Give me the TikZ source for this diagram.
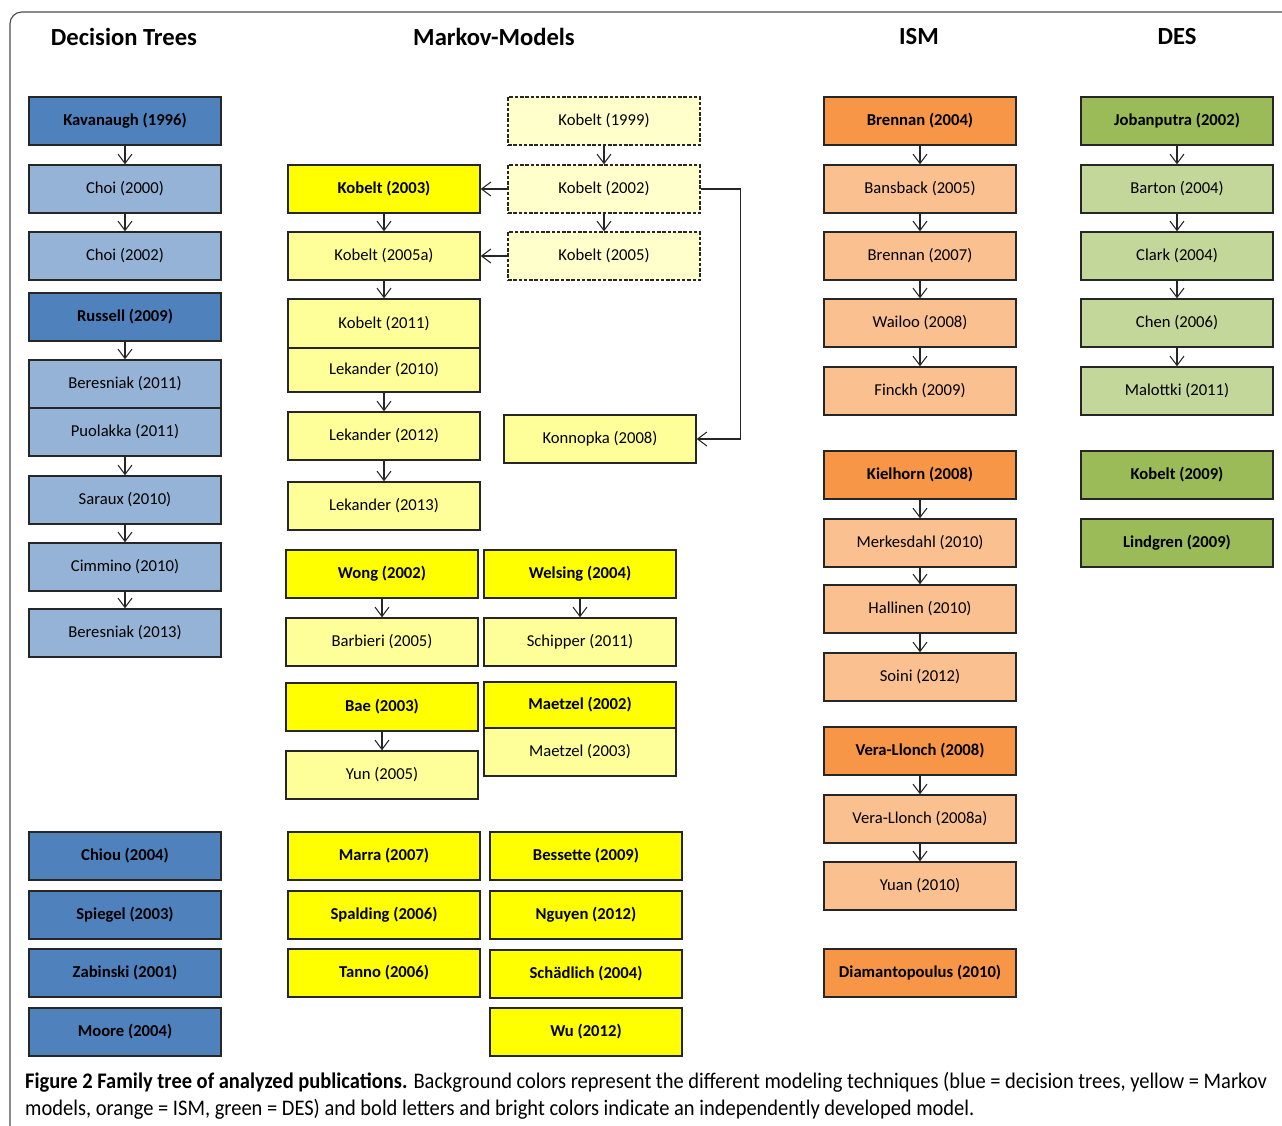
\documentclass[tikz,border=0pt]{standalone}
\usepackage{fontspec}
\setmainfont{Carlito}
\newfontfamily\capfont[FakeStretch=0.92]{Carlito}
\usetikzlibrary{arrows.meta}
\definecolor{dtdark}{HTML}{4F81BD}
\definecolor{dtlight}{HTML}{95B3D7}
\definecolor{mmdark}{HTML}{FFFF00}
\definecolor{mmlight}{HTML}{FFFF99}
\definecolor{mmpale}{HTML}{FFFFCC}
\definecolor{ismdark}{HTML}{F79646}
\definecolor{ismlight}{HTML}{FAC090}
\definecolor{desdark}{HTML}{9BBB59}
\definecolor{deslight}{HTML}{C4D79B}
\tikzset{
  pub/.style={draw=black!85, line width=1.2pt, minimum width=5.76cm,
    minimum height=1.44cm, inner sep=0pt, font=\fontsize{14.2}{16}\selectfont},
  indep/.style={pub, font=\fontsize{14.2}{16}\selectfont\bfseries},
  pubhead/.style={font=\fontsize{21}{24}\selectfont\bfseries},
  nx/.style={-{Straight Barb[length=2.8mm,width=4.2mm]}, line width=0.9pt, black!85},
}
\begin{document}
\begin{tikzpicture}[x=0.3mm,y=-0.3mm]
\useasboundingbox (0,0) rectangle (1282,1125);
\draw[rounded corners=10, line width=1pt, black!70] (10,1140) -- (10,12) -- (1300,12);
% Headers
\node[pubhead] (hdt) at (124,37) {Decision Trees};
\node[pubhead] (hmm) at (494,37) {Markov-Models};
\node[pubhead] (hism) at (919,37) {ISM};
\node[pubhead] (hdes) at (1177,37) {DES};
% Decision trees
\foreach \nm/\y/\txt in {kav/121/Kavanaugh (1996),rus/317/Russell (2009),
    chi/856/Chiou (2004),spi/915/Spiegel (2003),zab/973/Zabinski (2001),moo/1032/Moore (2004)}
  \node[indep,fill=dtdark] (\nm) at (125,\y) {\txt};
\foreach \nm/\y/\txt in {cho0/189/Choi (2000),cho2/256/Choi (2002),ber1/384/Beresniak (2011),
    puo/432/Puolakka (2011),sar/500/Saraux (2010),cim/567/Cimmino (2010),ber3/633/Beresniak (2013)}
  \node[pub,fill=dtlight] (\nm) at (125,\y) {\txt};
% Markov models
\foreach \nm/\y/\txt in {kob99/121/Kobelt (1999),kob02/189/Kobelt (2002),kob05/256/Kobelt (2005)}
  \node[pub,dash pattern=on 3pt off 1.5pt,fill=mmpale] (\nm) at (604,\y) {\txt};
\node[indep,fill=mmdark] (kob03) at (384,189) {Kobelt (2003)};
\node[pub,fill=mmlight] (kob5a) at (384,256) {Kobelt (2005a)};
\node[pub,fill=mmlight,minimum height=1.47cm] (kob11) at (384,323.5) {Kobelt (2011)};
\node[pub,fill=mmlight,minimum height=1.32cm] (lek10) at (384,370) {Lekander (2010)};
\node[pub,fill=mmlight] (lek12) at (384,436) {Lekander (2012)};
\node[pub,fill=mmlight] (lek13) at (384,506) {Lekander (2013)};
\node[pub,fill=mmlight] (kon) at (600,439) {Konnopka (2008)};
\foreach \nm/\x/\y/\txt in {won/382/574/Wong (2002),wel/580/574/Welsing (2004),bae/382/707/Bae (2003),
    mar/384/856/Marra (2007),spa/384/915/Spalding (2006),tan/384/973/Tanno (2006),
    bes/586/856/Bessette (2009),ngu/586/915/Nguyen (2012),sdl/586/974/Schädlich (2004),wu/586/1032/Wu (2012)}
  \node[indep,fill=mmdark] (\nm) at (\x,\y) {\txt};
\node[indep,fill=mmdark,minimum height=1.38cm] (mae2) at (580,705) {Maetzel (2002)};
\foreach \nm/\x/\y/\txt in {bar/382/642/Barbieri (2005),sch/580/642/Schipper (2011),
    yun/382/775/Yun (2005),mae3/580/752/Maetzel (2003)}
  \node[pub,fill=mmlight] (\nm) at (\x,\y) {\txt};
% ISM
\foreach \nm/\y/\txt in {bre4/121/Brennan (2004),kie/475/Kielhorn (2008),
    ver/751/Vera-Llonch (2008),dia/973/Diamantopoulus (2010)}
  \node[indep,fill=ismdark] (\nm) at (920,\y) {\txt};
\foreach \nm/\y/\txt in {ban/189/Bansback (2005),bre7/256/Brennan (2007),wai/323/Wailoo (2008),
    fin/391/Finckh (2009),mer/543/Merkesdahl (2010),hal/609/Hallinen (2010),soi/677/Soini (2012),
    vera/819/Vera-Llonch (2008a),yua/886/Yuan (2010)}
  \node[pub,fill=ismlight] (\nm) at (920,\y) {\txt};
% DES
\foreach \nm/\y/\txt in {job/121/Jobanputra (2002),kob9/475/Kobelt (2009),lin/543/Lindgren (2009)}
  \node[indep,fill=desdark] (\nm) at (1177,\y) {\txt};
\foreach \nm/\y/\txt in {brt/189/Barton (2004),cla/256/Clark (2004),che/323/Chen (2006),mal/391/Malottki (2011)}
  \node[pub,fill=deslight] (\nm) at (1177,\y) {\txt};
% Links
\foreach \a/\b in {kav/cho0,cho0/cho2,rus/ber1,puo/sar,sar/cim,cim/ber3,
    kob99/kob02,kob02/kob05,kob03/kob5a,kob5a/kob11,lek10/lek12,lek12/lek13,
    won/bar,wel/sch,bae/yun,
    bre4/ban,ban/bre7,bre7/wai,wai/fin,kie/mer,mer/hal,hal/soi,ver/vera,vera/yua,
    job/brt,brt/cla,cla/che,che/mal}
  \draw[nx] (\a.south) -- (\b.north);
\draw[nx] (kob02.west) -- (kob03.east);
\draw[nx] (kob05.west) -- (kob5a.east);
\draw[nx] (kob02.east) -- ++(40,0) |- (kon.east);
% Caption
\node[anchor=west,inner sep=0pt,font=\capfont\fontsize{19}{22}\selectfont] (cap1) at (25,1082)
  {\textbf{Figure 2 Family tree of analyzed publications.} Background colors represent the different modeling techniques (blue = decision trees, yellow = Markov};
\node[anchor=west,inner sep=0pt,font=\capfont\fontsize{19}{22}\selectfont] (cap2) at (25,1109)
  {models, orange = ISM, green = DES) and bold letters and bright colors indicate an independently developed model.};
\end{tikzpicture}
\end{document}
